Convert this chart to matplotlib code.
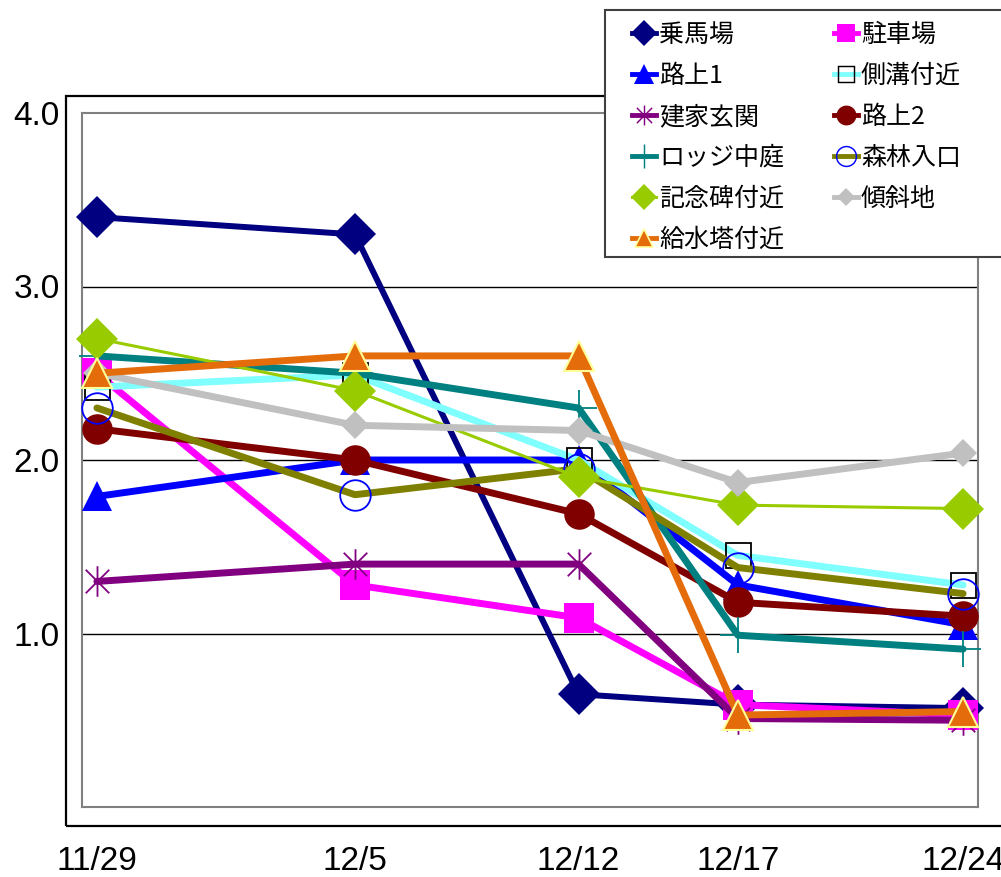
import numpy as np
import matplotlib
matplotlib.use("Agg")
from matplotlib import pyplot as plt
from matplotlib.path import Path
from matplotlib.lines import Line2D
from matplotlib.patches import Rectangle

plt.rcParams['font.family'] = ['Liberation Sans', 'DejaVu Sans']
CJK = ['Noto Sans CJK JP', 'DejaVu Sans']

dates = ['11/29', '12/5', '12/12', '12/17', '12/24']
x_days = [0, 7.45, 13.9, 18.5, 25]

names = ['乗馬場', '駐車場', '路上1', '側溝付近', '建家玄関', '路上2',
         'ロッジ中庭', '森林入口', '記念碑付近', '傾斜地', '給水塔付近']

jouba = [3.40, 3.30, 0.65, 0.59, 0.57]
chusha = [2.50, 1.28, 1.09, 0.59, 0.53]
rojo1 = [1.79, 2.00, 2.00, 1.28, 1.05]
sokko = [2.42, 2.49, 2.00, 1.45, 1.28]
genkan = [1.30, 1.40, 1.40, 0.51, 0.50]
rojo2 = [2.18, 2.00, 1.69, 1.18, 1.10]
lodge = [2.60, 2.50, 2.30, 0.99, 0.91]
shinrin = [2.30, 1.80, 1.95, 1.38, 1.23]
kinenhi = [2.70, 2.40, 1.90, 1.74, 1.72]
keisha = [2.50, 2.20, 2.17, 1.87, 2.04]
kyusui = [2.50, 2.60, 2.60, 0.53, 0.55]

series = [jouba, chusha, rojo1, sokko, genkan, rojo2,
          lodge, shinrin, kinenhi, keisha, kyusui]

# asterisk marker: X plus vertical bar
star = Path([(-1, -1), (1, 1), (-1, 1), (1, -1), (0, -1.3), (0, 1.3)],
            [Path.MOVETO, Path.LINETO] * 3)

styles = [
    dict(color='#000080', lw=4.3, marker='D', ms=21, mfc='#000080', mec='#000080', mew=0),
    dict(color='#FF00FF', lw=5.0, marker='s', ms=21, mfc='#FF00FF', mec='#FF00FF', mew=0),
    dict(color='#0000FF', lw=5.0, marker='^', ms=22, mfc='#0000FF', mec='#0000FF', mew=0),
    dict(color='#80FFFF', lw=5.0, marker='s', ms=18, mfc='none', mec='black', mew=1.3),
    dict(color='#800080', lw=5.0, marker=star, ms=22, mfc='none', mec='#800080', mew=1.3),
    dict(color='#800000', lw=5.0, marker='o', ms=22, mfc='#800000', mec='#800000', mew=0),
    dict(color='#008080', lw=5.0, marker='+', ms=26, mfc='none', mec='#008080', mew=1.3),
    dict(color='#808000', lw=5.0, marker='o', ms=22, mfc='none', mec='#0000FF', mew=1.3),
    dict(color='#99CC00', lw=2.2, marker='D', ms=21, mfc='#99CC00', mec='#99CC00', mew=0),
    dict(color='#C0C0C0', lw=5.0, marker='D', ms=14, mfc='#C0C0C0', mec='#C0C0C0', mew=0),
    dict(color='#E46C0A', lw=5.0, marker='^', ms=21, mfc='#E46C0A', mec='#FFFF99', mew=1.5),
]

W, H = 1001, 877
fig = plt.figure(figsize=(W / 100, H / 100), dpi=100)
ax = fig.add_axes([82 / W, 1 - 807 / H, (978 - 82) / W, (807 - 113) / H])

# outer chart frame
fig.patches.append(Rectangle((66 / W, 1 - 826 / H), 1.0, (826 - 96) / H,
                             transform=fig.transFigure, fill=False,
                             edgecolor='black', lw=1.6, zorder=0))

for yv in [1, 2, 3]:
    ax.axhline(yv, color='black', lw=1.0, zorder=1)

for vals, st in zip(series, styles):
    ax.plot(x_days, vals, color=st['color'], lw=st['lw'], marker=st['marker'],
            ms=st['ms'], mfc=st['mfc'], mec=st['mec'], mew=st['mew'],
            solid_joinstyle='round', solid_capstyle='round', zorder=3,
            clip_on=False)

ax.set_xlim(-0.43, 25.43)
ax.set_ylim(0, 4)
ax.set_yticks([1, 2, 3, 4], ['1.0', '2.0', '3.0', '4.0'])
ax.set_xticks(x_days, dates)
ax.tick_params(axis='both', length=0, labelsize=24)
ax.tick_params(axis='y', pad=16)
ax.tick_params(axis='x', pad=28)
for sp in ax.spines.values():
    sp.set_color('#808080')
    sp.set_linewidth(1.5)

# legend box drawn by hand, legend content placed inside it
fig.patches.append(Rectangle((605 / W, 1 - 257 / H), (1010 - 605) / W, (257 - 10) / H,
                             transform=fig.transFigure, facecolor='white',
                             edgecolor='#404040', lw=1.5, zorder=9))

handles = []
for st in styles:
    handles.append(Line2D([], [], color=st['color'], lw=min(st['lw'], 3.5),
                          marker=st['marker'], ms=st['ms'] * 0.65,
                          mfc=st['mfc'], mec=st['mec'], mew=st['mew'] * 0.8))
order = [0, 2, 4, 6, 8, 10, 1, 3, 5, 7, 9]
leg = fig.legend([handles[i] for i in order], [names[i] for i in order],
                 loc='upper left', bbox_to_anchor=(632 / W, 1 - 22 / H),
                 ncol=2, frameon=False, prop={'family': CJK, 'size': 18},
                 handlelength=0.96, handletextpad=0.12, columnspacing=2.0,
                 labelspacing=0.6, borderpad=0, borderaxespad=0)
leg.set_zorder(10)

fig.savefig('out.png', dpi=100)
